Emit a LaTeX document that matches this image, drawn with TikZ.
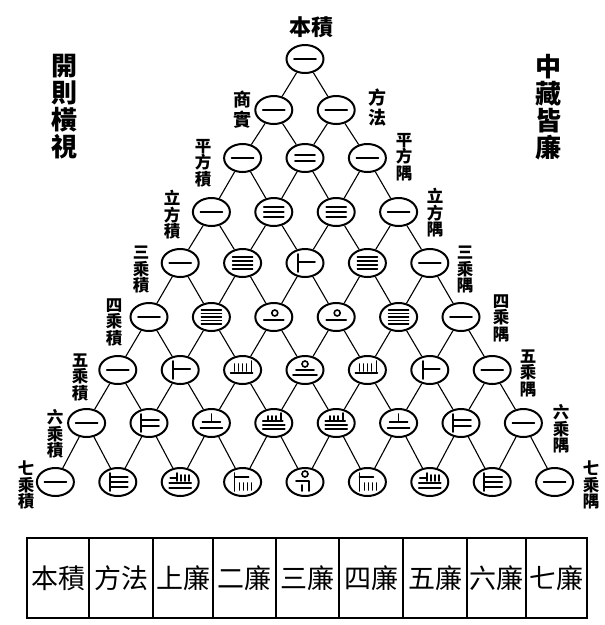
\documentclass[tikz,border=0pt]{standalone}
\usepackage{fontspec}
\newfontfamily\cjk{Noto Sans CJK TC}
\usetikzlibrary{shapes.geometric}

%rod numerals, drawn round the centre of a circle
\newcommand\glyphone{\draw[rod] (-11,0) -- (11,0);}
\newcommand\glyphtwo{\draw[rod] (-10,-3) -- (10,-3) (-10,3) -- (10,3);}
\newcommand\glyphthree{\draw[rod] (-10,-5) -- (10,-5) (-10,0) -- (10,0) (-10,5) -- (10,5);}
\newcommand\glyphfour{\foreach \v in {-6,-2,2,6} \draw[rod] (-10,\v) -- (10,\v);}
\newcommand\glyphfive{\foreach \v in {-7,-3.5,0,3.5,7} \draw[rod] (-10,\v) -- (10,\v);}
\newcommand\glyphsix{\draw[rod] (-7,-9) -- (-7,9) (-7,-1) -- (10,-1);}
\newcommand\glyphseven{\draw[rod] (-8,-9) -- (-8,9) (-8,-3) -- (10,-3) (-8,3) -- (10,3);}
\newcommand\glypheight{\draw[rod] (-8,-9) -- (-8,9) (-8,-5) -- (10,-5) (-8,0) -- (10,0) (-8,5) -- (10,5);}
\newcommand\glyphten{\draw[rod] (1,-4) circle (3); \draw[rod] (-10,3) -- (10,3);}
\newcommand\glyphfifteen{\foreach \u in {-8,-4,0,4} \draw[rod] (\u,-6) -- (\u,1);
  \draw[rod] (9,-9) -- (9,3) (-12,3) -- (10,3);}
\newcommand\glyphtwenty{\draw[rod] (0,-6) circle (3); \draw[rod] (-9,0) -- (9,0) (-12,5) -- (12,5);}
\newcommand\glyphtwentyone{\draw[rod] (0,-9) -- (0,-1) (-9,-1) -- (9,-1) (-11,5) -- (11,5);}
\newcommand\glyphthirtyfive{\foreach \u in {-6,-2,2} \draw[rod] (\u,-7) -- (\u,-2);
  \draw[rod] (7,-10) -- (7,-2) (-11,-2) -- (9,-2) (-11,2) -- (11,2) (-11,6) -- (11,6);}
\newcommand\glyphtwentyeight{\draw[rod] (-10,-4) -- (-3,-4) (-3,-9) -- (-3,-1);
  \foreach \u in {1,5,9} \draw[rod] (\u,-7) -- (\u,-1);
  \draw[rod] (-11,1) -- (11,1) (-11,6) -- (11,6);}
\newcommand\glyphfiftysix{\draw[rod] (-8,-9) -- (-8,9) (-8,-5) -- (6,-5);
  \foreach \u in {-3,1,5,9} \draw[rod] (\u,1) -- (\u,8);}
\newcommand\glyphseventy{\draw[rod] (0,-8) circle (3);
  \draw[rod] (-9,-1) -- (4,-1) (4,-1) -- (4,9) (-3,3) -- (-3,9);}

\begin{document}
\begin{tikzpicture}[x=1pt,y=-1pt,
  cell/.style={ellipse,draw,line width=2pt,fill=white,minimum width=37pt,minimum height=28pt,inner sep=0pt},
  rod/.style={line width=1.6pt,line cap=round},
  edge/.style={line width=1.1pt},
  side/.style={font=\cjk\bfseries\fontsize{16.5}{16.5}\selectfont,align=center,inner sep=0pt},
  head/.style={font=\cjk\bfseries\fontsize{26}{27}\selectfont,align=center,inner sep=0pt},
  tabtext/.style={font=\cjk\fontsize{27}{27}\selectfont,inner sep=0pt}]
\useasboundingbox (0,0) rectangle (605,625);

%circles
\foreach \r/\glist in {0/{one},1/{one,one},2/{one,two,one},3/{one,three,three,one},
  4/{one,four,six,four,one},5/{one,five,ten,ten,five,one},
  6/{one,six,fifteen,twenty,fifteen,six,one},
  7/{one,seven,twentyone,thirtyfive,thirtyfive,twentyone,seven,one},
  8/{one,eight,twentyeight,fiftysix,seventy,fiftysix,twentyeight,eight,one}}{
  \pgfmathsetmacro{\yy}{{59,110,158,212,263,317,370,423,482}[\r]}
  \foreach \g [count=\k from 0] in \glist {
    \pgfmathsetmacro{\xx}{305+(2*\k-\r)*31.2}
    \node[cell] (n-\r-\k) at (\xx,\yy) {};
    \begin{scope}[shift={(n-\r-\k.center)}]
      \csname glyph\g\endcsname
    \end{scope}
  }
}

%lattice
\foreach \r in {0,...,7}{
  \pgfmathtruncatemacro{\s}{\r+1}
  \foreach \k in {0,...,\r}{
    \pgfmathtruncatemacro{\kk}{\k+1}
    \draw[edge] (n-\r-\k) -- (n-\s-\k);
    \draw[edge] (n-\r-\k) -- (n-\s-\kk);
  }
}

%labels
\node[font=\cjk\bfseries\fontsize{22}{22}\selectfont,inner sep=0pt] (top) at (311,27) {本積};
\node[side,font=\cjk\bfseries\fontsize{18}{20}\selectfont] (l1) at (242,110) {商\\實};
\node[side,font=\cjk\bfseries\fontsize{18}{20}\selectfont] (r1) at (377,108) {方\\法};
\node[side] (l2) at (203,163) {平\\方\\積};
\node[side] (r2) at (404,157) {平\\方\\隅};
\node[side] (l3) at (172,215) {立\\方\\積};
\node[side] (r3) at (435,213) {立\\方\\隅};
\node[side] (l4) at (141,270) {三\\乘\\積};
\node[side] (r4) at (465,270) {三\\乘\\隅};
\node[side] (l5) at (114,322) {四\\乘\\積};
\node[side] (r5) at (501,318) {四\\乘\\隅};
\node[side] (l6) at (80,377) {五\\乘\\積};
\node[side] (r6) at (528,373) {五\\乘\\隅};
\node[side] (l7) at (55,434) {六\\乘\\積};
\node[side] (r7) at (561,429) {六\\乘\\隅};
\node[side] (l8) at (26,485) {七\\乘\\積};
\node[side] (r8) at (591,485) {七\\乘\\隅};
\node[head] (left) at (65,107) {開\\則\\橫\\視};
\node[head] (right) at (548,107) {中\\藏\\皆\\廉};

%table
\foreach \a/\b/\t [count=\i] in {27/89/本積,89/153/方法,153/213/上廉,213/276/二廉,
  276/339/三廉,339/403/四廉,403/467/五廉,467/526/六廉,526/587/七廉}{
  \draw[line width=1.5pt] (\a,538) rectangle (\b,618);
  \node[tabtext] (t\i) at ({(\a+\b)/2},578) {\t};
}
\end{tikzpicture}
\end{document}
